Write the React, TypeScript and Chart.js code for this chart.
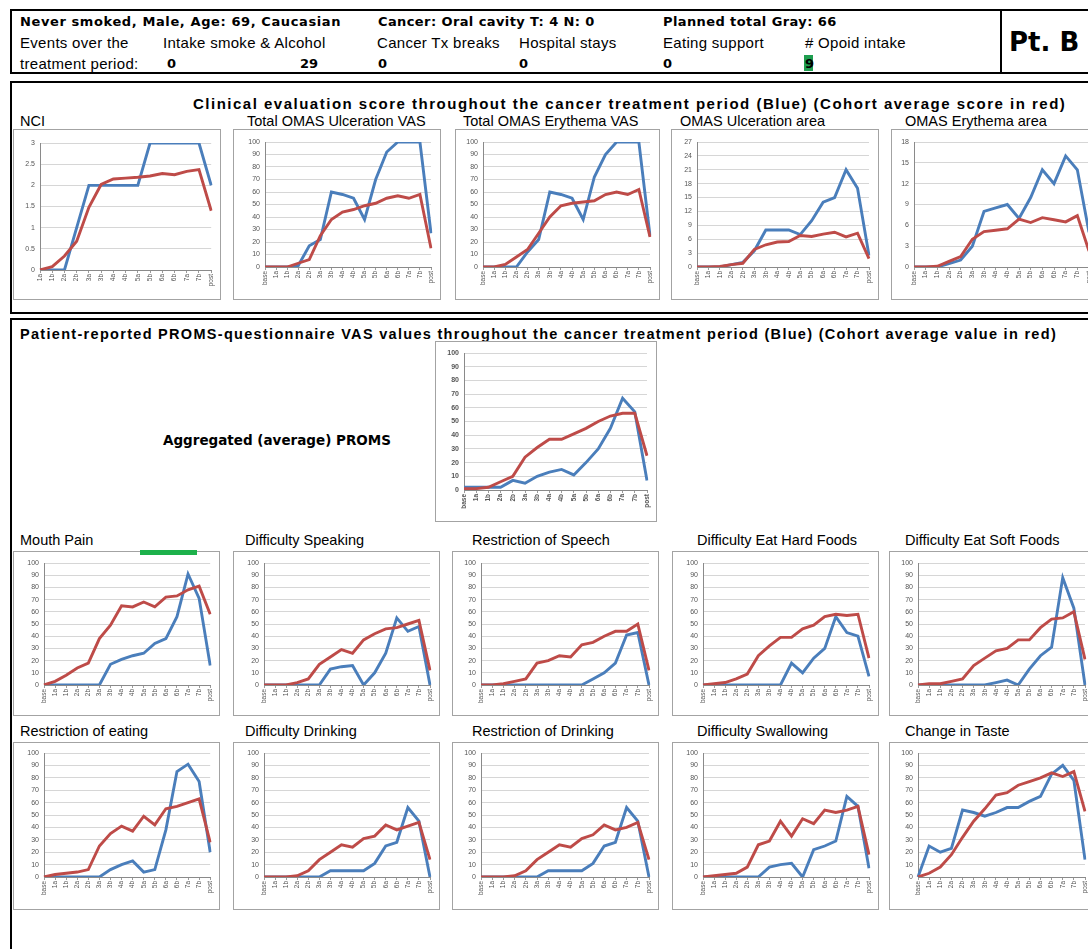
import React, { useEffect, useRef } from "react";
import { Chart, registerables } from "chart.js";

Chart.register(...registerables);

// ---------- Data ----------
const CATEGORIES = ["base", "1a", "1b", "2a", "2b", "3a", "3b", "4a", "4b", "5a", "5b", "6a", "6b", "7a", "7b", "post"];
const NCI_CATEGORIES = ["1a", "1b", "2a", "2b", "3a", "3b", "4a", "4b", "5a", "5b", "6a", "6b", "7a", "7b", "post"];

const NCI_PATIENT = [0, 0, 0, 1, 2, 2, 2, 2, 2, 3, 3, 3, 3, 3, 2];
const NCI_COHORT = [0, 0.08, 0.33, 0.68, 1.48, 2.02, 2.15, 2.17, 2.19, 2.22, 2.28, 2.25, 2.33, 2.37, 1.4];

const ULC_VAS_PATIENT = [0, 0, 0, 1, 17, 22, 60, 58, 55, 38, 70, 92, 100, 100, 100, 27];
const ULC_VAS_COHORT = [0, 0, 0, 3, 6, 25, 38, 44, 46, 49, 51, 55, 57, 55, 58, 15];

const ERY_VAS_PATIENT = [0, 0, 0, 0, 12, 22, 60, 58, 55, 38, 72, 90, 100, 100, 100, 25];
const ERY_VAS_COHORT = [0, 0, 2, 8, 14, 27, 40, 49, 51, 52, 53, 58, 60, 58, 62, 24];

const ULC_AREA_PATIENT = [0, 0, 0, 0.5, 1, 3.5, 8, 8, 8, 7, 10, 14, 15, 21, 17, 2.5];
const ULC_AREA_COHORT = [0, 0, 0.1, 0.5, 0.8, 3.8, 4.8, 5.4, 5.5, 6.8, 6.6, 7.1, 7.5, 6.5, 7.3, 1.8];

const ERY_AREA_PATIENT = [0, 0, 0, 0.5, 1, 3, 8, 8.5, 9, 7, 10, 14, 12, 16, 14, 5];
const ERY_AREA_COHORT = [0, 0, 0.1, 0.8, 1.5, 4, 5.1, 5.3, 5.5, 6.9, 6.4, 7.1, 6.8, 6.5, 7.4, 2.3];

const AGG_PATIENT = [2, 2, 2, 2, 7, 5, 10, 13, 15, 11, 20, 30, 45, 67, 57, 7];
const AGG_COHORT = [1, 1, 2, 6, 10, 24, 31, 37, 37, 41, 45, 50, 54, 56, 56, 25];

const MOUTH_PAIN_PATIENT = [0, 0, 0, 0, 0, 0, 17, 21, 24, 26, 34, 38, 56, 91, 71, 16];
const MOUTH_PAIN_COHORT = [0, 3, 8, 14, 18, 38, 49, 65, 64, 68, 64, 72, 73, 78, 81, 58];

const DIFF_SPEAK_PATIENT = [0, 0, 0, 0, 0, 0, 13, 15, 16, 0, 10, 26, 55, 44, 48, 0];
const DIFF_SPEAK_COHORT = [0, 0, 0, 2, 5, 17, 23, 29, 26, 37, 42, 46, 47, 50, 53, 12];

const RESTR_SPEECH_PATIENT = [0, 0, 0, 0, 0, 0, 0, 0, 0, 0, 5, 10, 18, 41, 43, 0];
const RESTR_SPEECH_COHORT = [0, 0, 1, 3, 5, 18, 20, 24, 23, 33, 35, 40, 44, 44, 50, 12];

const HARD_FOOD_PATIENT = [0, 0, 0, 0, 0, 0, 0, 0, 18, 10, 22, 30, 56, 43, 40, 7];
const HARD_FOOD_COHORT = [0, 1, 2, 5, 9, 24, 32, 39, 39, 46, 49, 56, 58, 57, 58, 22];

const SOFT_FOOD_PATIENT = [0, 0, 0, 0, 0, 0, 0, 2, 4, 0, 13, 24, 31, 88, 63, 0];
const SOFT_FOOD_COHORT = [0, 1, 1, 3, 5, 16, 22, 28, 30, 37, 37, 47, 54, 55, 60, 21];

const RESTR_EAT_PATIENT = [0, 0, 0, 0, 0, 0, 6, 10, 13, 4, 6, 38, 85, 91, 77, 20];
const RESTR_EAT_COHORT = [0, 2, 3, 4, 6, 25, 35, 41, 37, 49, 42, 55, 57, 60, 63, 28];

const DIFF_DRINK_PATIENT = [0, 0, 0, 0, 0, 0, 5, 5, 5, 5, 11, 25, 28, 56, 45, 0];
const DIFF_DRINK_COHORT = [0, 0, 0, 1, 5, 14, 20, 26, 24, 31, 33, 42, 38, 41, 44, 14];

const RESTR_DRINK_PATIENT = [0, 0, 0, 0, 0, 0, 5, 5, 5, 5, 11, 25, 28, 56, 45, 0];
const RESTR_DRINK_COHORT = [0, 0, 0, 1, 5, 14, 20, 26, 24, 31, 34, 42, 38, 40, 44, 14];

const SWALLOW_PATIENT = [0, 0, 0, 0, 0, 0, 8, 10, 11, 0, 22, 25, 29, 65, 57, 7];
const SWALLOW_COHORT = [0, 1, 2, 3, 8, 26, 29, 45, 33, 47, 43, 54, 52, 54, 57, 18];

const TASTE_PATIENT = [0, 25, 20, 23, 54, 52, 49, 52, 56, 56, 61, 65, 83, 90, 78, 14];
const TASTE_COHORT = [0, 3, 8, 18, 32, 45, 55, 66, 68, 74, 77, 80, 84, 81, 85, 53];

// ---------- Styles ----------
const BLUE = "#4a7ebb";
const RED = "#be4b48";
const SANS = "'Liberation Sans', Arial, sans-serif";
const DEJAVU = "'DejaVu Sans', Verdana, sans-serif";

type ChartProps = {
  x: number; y: number; w: number; h: number;
  labels: string[]; patient: number[]; cohort: number[];
  yMax: number; yStep: number;
  axisW?: number; padTop?: number; padRight?: number; xAxisH?: number; boldTicks?: boolean;
};

function MiniChart(p: ChartProps) {
  const ref = useRef<HTMLCanvasElement>(null);
  const axisW = p.axisW ?? 29;
  const padTop = p.padTop ?? 11;
  const padRight = p.padRight ?? 9;
  const xAxisH = p.xAxisH ?? 30;
  useEffect(() => {
    const chart = new Chart(ref.current!, {
      type: "line",
      data: {
        labels: p.labels,
        datasets: [
          { data: p.cohort, borderColor: RED, borderWidth: 2.9, pointRadius: 0, tension: 0, order: 0 },
          { data: p.patient, borderColor: BLUE, borderWidth: 2.9, pointRadius: 0, tension: 0, order: 1 },
        ],
      },
      options: {
        responsive: false,
        animation: false,
        layout: { padding: { top: padTop, right: padRight, left: 0, bottom: 0 } },
        plugins: { legend: { display: false }, tooltip: { enabled: false } },
        scales: {
          x: {
            offset: false,
            grid: { display: true, drawOnChartArea: false, drawTicks: true, tickLength: 3, color: "#9a9a9a" },
            border: { color: "#8a8a8a" },
            ticks: {
              autoSkip: false, maxRotation: 90, minRotation: 90,
              font: { size: 6.5, family: SANS, weight: p.boldTicks ? "bold" : "normal" },
              color: "#555", padding: 1,
            },
            afterFit: (s: any) => { s.height = xAxisH; },
          },
          y: {
            min: 0, max: p.yMax,
            ticks: {
              stepSize: p.yStep,
              font: { size: 7, family: SANS, weight: p.boldTicks ? "bold" : "normal" },
              color: "#555", padding: 5,
              callback: (v: any) => String(Math.round(Number(v) * 100) / 100),
            },
            grid: { color: "#d6d6d6", drawTicks: false },
            border: { display: true, color: "#8a8a8a" },
            afterFit: (s: any) => { s.width = axisW; },
          },
        },
      },
    } as any);
    return () => chart.destroy();
  }, []);
  return (
    <div style={{ position: "absolute", left: p.x, top: p.y, width: p.w, height: p.h, border: "1px solid #a3a3a3", boxSizing: "border-box", background: "#fff" }}>
      <canvas ref={ref} width={p.w - 2} height={p.h - 2} style={{ display: "block" }} />
    </div>
  );
}

function Txt(props: { x: number; y: number; size: number; bold?: boolean; family?: string; children: React.ReactNode; ls?: number; }) {
  return (
    <div style={{
      position: "absolute", left: props.x, top: props.y, transform: "translateY(-50%)",
      fontFamily: props.family ?? SANS, fontSize: props.size, fontWeight: props.bold ? "bold" : "normal",
      whiteSpace: "nowrap", lineHeight: 1, color: "#000", letterSpacing: props.ls ?? 0,
    }}>{props.children}</div>
  );
}

export default function App() {
  const clinTop = 129, clinH = 171;
  const r1Top = 551, r1H = 165;
  const r2Top = 742, r2H = 168;
  const promsX = [13, 233, 452, 672, 889];
  return (
    <div style={{ position: "absolute", left: 0, top: 0, width: 1088, height: 949, overflow: "hidden", background: "#fff" }}>
      {/* Header box */}
      <div style={{ position: "absolute", left: 10, top: 9, width: 1100, height: 65, border: "2px solid #000", boxSizing: "border-box" }} />
      <div style={{ position: "absolute", left: 1000, top: 9, width: 100, height: 65, borderLeft: "2px solid #000", boxSizing: "border-box" }} />
      <Txt x={1009} y={42} size={26} bold family={DEJAVU}>Pt. B</Txt>

      <Txt x={20} y={21} size={13} bold ls={0.6} family={DEJAVU}>Never smoked, Male, Age: 69, Caucasian</Txt>
      <Txt x={378} y={21} size={13} bold ls={0.4} family={DEJAVU}>Cancer: Oral cavity T: 4 N: 0</Txt>
      <Txt x={663} y={21} size={13} bold ls={0.4} family={DEJAVU}>Planned total Gray: 66</Txt>

      <Txt x={20} y={42} size={15} ls={0.3} family={SANS}>Events over the</Txt>
      <Txt x={163} y={42} size={15} ls={0.3} family={SANS}>Intake smoke &amp; Alcohol</Txt>
      <Txt x={377} y={42} size={15} ls={0.3} family={SANS}>Cancer Tx breaks</Txt>
      <Txt x={519} y={42} size={15} ls={0.3} family={SANS}>Hospital stays</Txt>
      <Txt x={663} y={42} size={15} ls={0.3} family={SANS}>Eating support</Txt>
      <Txt x={805} y={42} size={15} ls={0.3} family={SANS}># Opoid intake</Txt>

      <Txt x={20} y={63} size={15} ls={0.3} family={SANS}>treatment period:</Txt>
      <Txt x={167} y={63} size={13} bold family={DEJAVU}>0</Txt>
      <Txt x={300} y={63} size={13} bold family={DEJAVU}>29</Txt>
      <Txt x={378} y={63} size={13} bold family={DEJAVU}>0</Txt>
      <Txt x={519} y={63} size={13} bold family={DEJAVU}>0</Txt>
      <Txt x={663} y={63} size={13} bold family={DEJAVU}>0</Txt>
      <div style={{ position: "absolute", left: 804, top: 55, width: 9, height: 16, background: "#1e9e4f" }} />
      <Txt x={805} y={63} size={13} bold family={DEJAVU}>9</Txt>

      {/* Clinical section */}
      <div style={{ position: "absolute", left: 10, top: 81, width: 1100, height: 233, border: "2px solid #000", boxSizing: "border-box" }} />
      <Txt x={193} y={103} size={15} bold ls={1.5}>Clinical evaluation score throughout the cancer treatment period (Blue) (Cohort average score in red)</Txt>

      <Txt x={20} y={121} size={14.5}>NCI</Txt>
      <Txt x={247} y={121} size={14.5}>Total OMAS Ulceration VAS</Txt>
      <Txt x={463} y={121} size={14.5}>Total OMAS Erythema VAS</Txt>
      <Txt x={680} y={121} size={14.5}>OMAS Ulceration area</Txt>
      <Txt x={905} y={121} size={14.5}>OMAS Erythema area</Txt>

      <MiniChart x={13} y={clinTop} w={208} h={clinH} labels={NCI_CATEGORIES} patient={NCI_PATIENT} cohort={NCI_COHORT} yMax={3} yStep={0.5} axisW={26} padTop={13} xAxisH={29} padRight={7} />
      <MiniChart x={233} y={clinTop} w={208} h={clinH} labels={CATEGORIES} patient={ULC_VAS_PATIENT} cohort={ULC_VAS_COHORT} yMax={100} yStep={10} axisW={31} padTop={12} xAxisH={32} />
      <MiniChart x={455} y={clinTop} w={205} h={clinH} labels={CATEGORIES} patient={ERY_VAS_PATIENT} cohort={ERY_VAS_COHORT} yMax={100} yStep={10} axisW={27} padTop={12} xAxisH={32} />
      <MiniChart x={671} y={clinTop} w={208} h={clinH} labels={CATEGORIES} patient={ULC_AREA_PATIENT} cohort={ULC_AREA_COHORT} yMax={27} yStep={3} axisW={25} padTop={12} xAxisH={32} />
      <MiniChart x={891} y={clinTop} w={208} h={clinH} labels={CATEGORIES} patient={ERY_AREA_PATIENT} cohort={ERY_AREA_COHORT} yMax={18} yStep={3} axisW={22} padTop={12} xAxisH={32} />

      {/* PROMS section */}
      <div style={{ position: "absolute", left: 10, top: 318, width: 1100, height: 640, border: "2px solid #000", boxSizing: "border-box" }} />
      <Txt x={20} y={334} size={14.5} bold ls={1.3}>Patient-reported PROMS-questionnaire VAS values throughout the cancer treatment period (Blue) (Cohort average value in red)</Txt>

      <Txt x={163} y={441} size={13.5} bold family={DEJAVU}>Aggregated (average) PROMS</Txt>
      <MiniChart x={435} y={341} w={222} h={181} labels={CATEGORIES} patient={AGG_PATIENT} cohort={AGG_COHORT} yMax={100} yStep={10} axisW={28} padTop={11} xAxisH={31} boldTicks />

      <Txt x={20} y={540} size={14.5}>Mouth Pain</Txt>
      <Txt x={245} y={540} size={14.5}>Difficulty Speaking</Txt>
      <Txt x={472} y={540} size={14.5}>Restriction of Speech</Txt>
      <Txt x={697} y={540} size={14.5}>Difficulty Eat Hard Foods</Txt>
      <Txt x={905} y={540} size={14.5}>Difficulty Eat Soft Foods</Txt>

      <MiniChart x={promsX[0]} y={r1Top} w={207} h={r1H} labels={CATEGORIES} patient={MOUTH_PAIN_PATIENT} cohort={MOUTH_PAIN_COHORT} yMax={100} yStep={10} axisW={30} padRight={7} />
      <MiniChart x={promsX[1]} y={r1Top} w={207} h={r1H} labels={CATEGORIES} patient={DIFF_SPEAK_PATIENT} cohort={DIFF_SPEAK_COHORT} yMax={100} yStep={10} axisW={30} />
      <MiniChart x={promsX[2]} y={r1Top} w={207} h={r1H} labels={CATEGORIES} patient={RESTR_SPEECH_PATIENT} cohort={RESTR_SPEECH_COHORT} yMax={100} yStep={10} axisW={28} />
      <MiniChart x={promsX[3]} y={r1Top} w={207} h={r1H} labels={CATEGORIES} patient={HARD_FOOD_PATIENT} cohort={HARD_FOOD_COHORT} yMax={100} yStep={10} axisW={30} />
      <MiniChart x={promsX[4]} y={r1Top} w={207} h={r1H} labels={CATEGORIES} patient={SOFT_FOOD_PATIENT} cohort={SOFT_FOOD_COHORT} yMax={100} yStep={10} axisW={28} padRight={10} />
      <div style={{ position: "absolute", left: 140, top: 550, width: 57, height: 5, background: "#1db14b" }} />

      <Txt x={20} y={731} size={14.5}>Restriction of eating</Txt>
      <Txt x={245} y={731} size={14.5}>Difficulty Drinking</Txt>
      <Txt x={472} y={731} size={14.5}>Restriction of Drinking</Txt>
      <Txt x={697} y={731} size={14.5}>Difficulty Swallowing</Txt>
      <Txt x={905} y={731} size={14.5}>Change in Taste</Txt>

      <MiniChart x={promsX[0]} y={r2Top} w={207} h={r2H} labels={CATEGORIES} patient={RESTR_EAT_PATIENT} cohort={RESTR_EAT_COHORT} yMax={100} yStep={10} axisW={30} padTop={10} xAxisH={32} padRight={7} />
      <MiniChart x={promsX[1]} y={r2Top} w={207} h={r2H} labels={CATEGORIES} patient={DIFF_DRINK_PATIENT} cohort={DIFF_DRINK_COHORT} yMax={100} yStep={10} axisW={30} padTop={10} xAxisH={32} />
      <MiniChart x={promsX[2]} y={r2Top} w={207} h={r2H} labels={CATEGORIES} patient={RESTR_DRINK_PATIENT} cohort={RESTR_DRINK_COHORT} yMax={100} yStep={10} axisW={28} padTop={10} xAxisH={32} />
      <MiniChart x={promsX[3]} y={r2Top} w={207} h={r2H} labels={CATEGORIES} patient={SWALLOW_PATIENT} cohort={SWALLOW_COHORT} yMax={100} yStep={10} axisW={30} padTop={10} xAxisH={32} />
      <MiniChart x={promsX[4]} y={r2Top} w={207} h={r2H} labels={CATEGORIES} patient={TASTE_PATIENT} cohort={TASTE_COHORT} yMax={100} yStep={10} axisW={28} padTop={10} xAxisH={32} padRight={10} />
    </div>
  );
}
